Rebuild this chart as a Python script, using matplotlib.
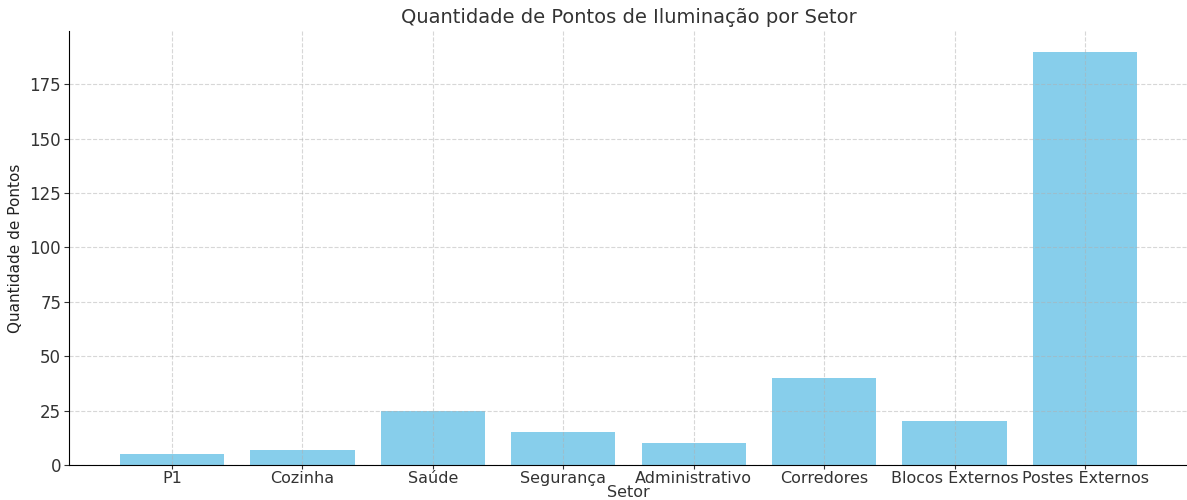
import matplotlib
matplotlib.use("Agg")
import matplotlib.pyplot as plt

setores = ["P1", "Cozinha", "Saúde", "Segurança", "Administrativo",
           "Corredores", "Blocos Externos", "Postes Externos"]
pontos = [5, 7, 25, 15, 10, 40, 20, 190]

fig = plt.figure(figsize=(11.87, 5.0), dpi=100)
ax = fig.add_axes([0.058, 0.07, 0.943, 0.868])

ax.bar(setores, pontos, color="skyblue")
ax.set_title("Quantidade de Pontos de Iluminação por Setor", fontsize=14, color="#333333")
ax.set_xlabel("Setor", fontsize=11.5, color="#333333", labelpad=-1)
ax.set_ylabel("Quantidade de Pontos", fontsize=11, color="#222222", labelpad=5)
ax.tick_params(labelsize=12, colors="#333333", pad=2)
ax.tick_params(axis="x", labelsize=11.5, pad=1.5, length=3)
ax.grid(True, linestyle="--", alpha=0.5)
for s in ["top", "right"]:
    ax.spines[s].set_visible(False)

fig.savefig("out.png", dpi=100)
